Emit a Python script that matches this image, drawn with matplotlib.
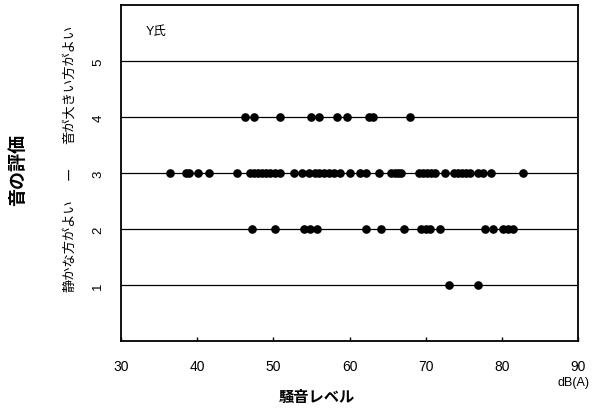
import matplotlib.pyplot as plt

plt.rcParams['font.family'] = ['Liberation Sans', 'Noto Sans CJK JP', 'DejaVu Sans']

# noise level (dB(A)) for each rating row
rating4 = [46.3, 47.4, 50.9, 55.0, 56.0, 58.3, 59.6, 62.6, 63.1, 67.9]
rating3 = [36.4, 38.5, 38.9, 40.1, 41.5, 45.2,
           46.9, 47.4, 48.0, 48.5, 49.0, 49.6, 50.2, 50.9,
           52.7, 53.7,
           54.7, 55.4, 56.0, 56.7, 57.3, 58.0, 58.7,
           60.1, 61.4, 62.1, 63.9,
           65.4, 65.9, 66.4, 66.8,
           69.1, 69.6, 70.1, 70.7, 71.2,
           72.5, 73.7, 74.2, 74.8, 75.3, 75.8,
           76.9, 77.5, 78.5, 82.8]
rating2 = [47.2, 50.2, 54.0, 54.8, 55.7, 62.2, 64.1, 67.2, 69.4, 70.0,
           70.5, 71.9, 77.8, 78.8, 80.2, 80.8, 81.4]
rating1 = [73.1, 76.9]

x_ticks = [30, 40, 50, 60, 70, 80, 90]
y_ticks = [1, 2, 3, 4, 5]

fig = plt.figure(figsize=(5.93, 4.10), dpi=100)
ax = fig.add_axes([0.204, 0.165, 0.771, 0.820])

for yv in y_ticks:
    ax.axhline(yv, color='black', lw=0.9, zorder=1)

rows = {4: rating4, 3: rating3, 2: rating2, 1: rating1}
for yv, xs in rows.items():
    ax.plot(xs, [yv] * len(xs), 'o', color='black', ms=5.2, zorder=3)

ax.set_xlim(30, 90)
ax.set_ylim(0, 6)
ax.set_xticks(x_ticks)
ax.set_xticklabels([str(v) for v in x_ticks], fontsize=10)
ax.set_yticks(y_ticks)
ax.set_yticklabels([str(v) for v in y_ticks], fontsize=9.5, rotation=90, va='center')
ax.tick_params(axis='x', direction='in', length=3, pad=13, width=1)
ax.tick_params(axis='y', length=0, pad=12)
for s in ax.spines.values():
    s.set_linewidth(1.3)

ax.text(33.2, 5.54, 'Y氏', fontsize=9, va='center', ha='left')

fig.text(317 / 593, 1 - 398 / 410, '騒音レベル', fontsize=11, ha='center', va='center',
         fontweight='bold')
fig.text(573 / 593, 1 - 383 / 410, 'dB(A)', fontsize=9, ha='center', va='center')

fig.text(18 / 593, 1 - 170 / 410, '音の評価', fontsize=13, rotation=90,
         ha='center', va='center', fontweight='bold')
fig.text(70 / 593, 1 - 246 / 410, '静かな方がよい', fontsize=9.5, rotation=90,
         ha='center', va='center')
fig.text(70 / 593, 1 - 173 / 410, 'ー', fontsize=9.5, rotation=90,
         ha='center', va='center')
fig.text(70 / 593, 1 - 84 / 410, '音が大きい方がよい', fontsize=9.5, rotation=90,
         ha='center', va='center')

fig.savefig('out.png', dpi=100)
